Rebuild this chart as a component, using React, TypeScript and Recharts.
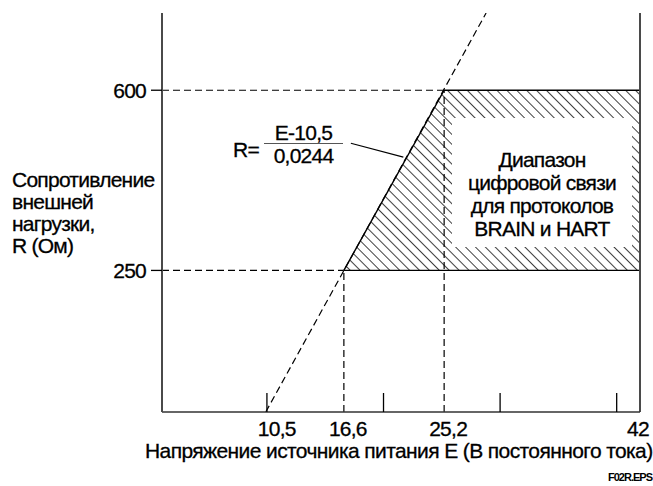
import { ComposedChart, Line, Area, XAxis, YAxis, ReferenceLine } from "recharts"

const FONT = "'Liberation Sans', Arial, sans-serif"

// подписи и засечки оси E
const voltageLabels = [10.5, 16.6, 25.2, 42]
const voltageMarks = [10, 20, 30, 40]
const resistanceTicks = [250, 600]

// граничные точки диапазона
const minVoltage = 16.6
const cornerVoltage = 25.2
const minLoad = 250
const maxLoad = 600

// заштрихованная зона: E, нижняя и верхняя граница R
const zoneE = [16.6, 25.2, 42]
const zoneLow = [250, 250, 250]
const zoneHigh = [250, 600, 600]

// прямая R = (E - 10,5) / 0,0244
const loadLineE = [9.9, 28.8]
const loadLineR = [-25, 750]

const zoneData = zoneE.map((e, i) => ({ E: e, range: [zoneLow[i], zoneHigh[i]] }))
const loadLineData = loadLineE.map((e, i) => ({ E: e, R: loadLineR[i] }))
const xTicks = [...voltageMarks, ...voltageLabels].sort((a, b) => a - b)

function VoltageTick({ x, y, payload }: any) {
  const v = payload.value
  if (voltageMarks.includes(v)) {
    return <line x1={x} x2={x} y1={y} y2={y - 19} stroke="#000" strokeWidth={1.3} />
  }
  // последняя подпись прижата к правой оси
  const dx = v === 42 ? -2 : 4
  return (
    <text x={x + dx} y={y + 16} textAnchor="middle" dominantBaseline="central"
      fontSize={21} letterSpacing={-0.75} fontFamily={FONT} fill="#000" stroke="#000" strokeWidth={0.3}>
      {String(v).replace(".", ",")}
    </text>
  )
}

const dash = "7 4"

export default function App() {
  const txt: React.CSSProperties = {
    position: "absolute", fontFamily: FONT, fontSize: 21, letterSpacing: -0.75, color: "#000",
    lineHeight: "22px", whiteSpace: "nowrap", WebkitTextStroke: "0.3px #000",
  }
  return (
    <div style={{ position: "absolute", left: 0, top: 0, width: 653, height: 486, background: "#fff" }}>
      <ComposedChart width={653} height={486} margin={{ top: 13, right: 13, bottom: 34, left: 122 }}>
        <defs>
          <pattern id="hatch" patternUnits="userSpaceOnUse" width="7" height="7" patternTransform="rotate(-45)">
            <line x1="0" y1="0" x2="0" y2="7" stroke="#000" strokeWidth="1.5" />
          </pattern>
        </defs>
        <XAxis dataKey="E" type="number" domain={[1, 42]} allowDataOverflow ticks={xTicks} interval={0}
          height={40} tickSize={0} tickMargin={0} tickLine={false} tick={<VoltageTick />}
          axisLine={{ stroke: "#333", strokeWidth: 1.6 }} />
        <YAxis type="number" domain={[-25, 750]} allowDataOverflow ticks={resistanceTicks} interval={0}
          width={40} tickSize={11} tickMargin={5}
          tick={{ fill: "#000", fontSize: 21, letterSpacing: -0.75, fontFamily: FONT, stroke: "#000", strokeWidth: 0.3 }}
          tickLine={{ stroke: "#000", strokeWidth: 1.3 }}
          axisLine={{ stroke: "#4a4a4a", strokeWidth: 2 }} />
        <ReferenceLine segment={[{ x: 1, y: maxLoad }, { x: cornerVoltage, y: maxLoad }]} stroke="#000" strokeDasharray={dash} strokeWidth={1.2} />
        <ReferenceLine segment={[{ x: 1, y: minLoad }, { x: minVoltage, y: minLoad }]} stroke="#000" strokeDasharray={dash} strokeWidth={1.2} />
        <ReferenceLine segment={[{ x: cornerVoltage, y: -25 }, { x: cornerVoltage, y: maxLoad }]} stroke="#000" strokeDasharray={dash} strokeWidth={1.2} />
        <ReferenceLine segment={[{ x: minVoltage, y: -25 }, { x: minVoltage, y: minLoad }]} stroke="#000" strokeDasharray={dash} strokeWidth={1.2} />
        <Line data={loadLineData} dataKey="R" type="linear" stroke="#000" strokeWidth={1.2}
          strokeDasharray={dash} dot={false} activeDot={false} isAnimationActive={false} />
        <Area data={zoneData} dataKey="range" type="linear" fill="url(#hatch)" fillOpacity={1}
          stroke="#000" strokeWidth={1.4} isAnimationActive={false} />
        <ReferenceLine x={42} stroke="#4a4a4a" strokeWidth={2} />
        <ReferenceLine segment={[{ x: 17.2, y: 497 }, { x: 21.7, y: 470 }]} stroke="#000" strokeWidth={1.2} />
      </ComposedChart>

      {/* подпись оси R */}
      <div style={{ ...txt, left: 12, top: 169 }}>
        Сопротивление<br />внешней<br />нагрузки,<br />R (Ом)
      </div>

      {/* подпись оси E */}
      <div style={{ ...txt, left: 145, top: 440, letterSpacing: -0.6 }}>
        Напряжение источника питания E (В постоянного тока)
      </div>

      <div style={{ ...txt, left: 608, top: 471, fontSize: 11, letterSpacing: -1, lineHeight: "12px", fontWeight: "bold", WebkitTextStroke: "0" }}>F02R.EPS</div>

      {/* формула */}
      <div style={{ ...txt, left: 233, top: 139 }}>R=</div>
      <div style={{ ...txt, left: 264, top: 122, width: 79, textAlign: "center" }}>E-10,5</div>
      <div style={{ position: "absolute", left: 264, top: 143, width: 79, height: 1, background: "#555" }} />
      <div style={{ ...txt, left: 264, top: 145, width: 79, textAlign: "center" }}>0,0244</div>

      {/* диапазон */}
      <div style={{ ...txt, left: 452, top: 118, width: 180, height: 129, background: "#fff",
        lineHeight: "23px", paddingTop: 30, boxSizing: "border-box", textAlign: "center" }}>
        <div>Диапазон</div>
        <div>цифровой связи</div>
        <div>для протоколов</div>
        <div>BRAIN и HART</div>
      </div>
    </div>
  )
}
